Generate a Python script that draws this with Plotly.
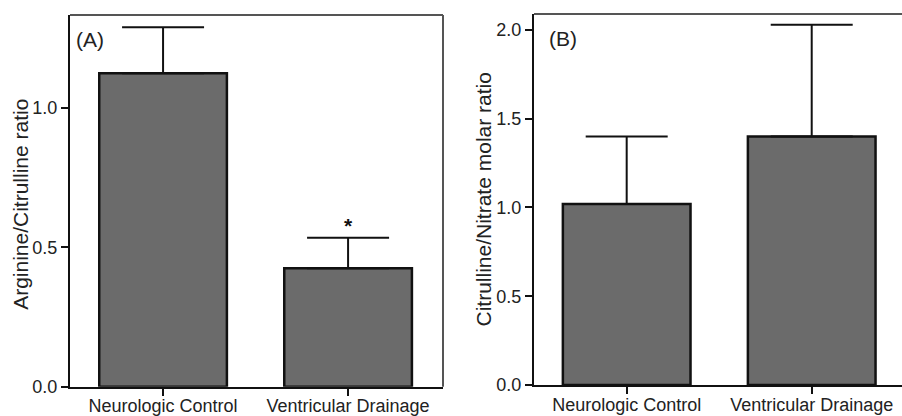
import plotly.graph_objects as go

categories = ["Neurologic Control", "Ventricular Drainage"]
arg_cit_ratio = [1.125, 0.425]
arg_cit_err = [0.165, 0.11]
cit_nit_ratio = [1.02, 1.40]
cit_nit_err = [0.38, 0.63]
yticks_a = [0.0, 0.5, 1.0]
yticks_b = [0.0, 0.5, 1.0, 1.5, 2.0]
ytitle_a = "Arginine/Citrulline ratio"
ytitle_b = "Citrulline/Nitrate molar ratio"

FONT = "Liberation Sans, Arial, sans-serif"
BAR_FILL = "#6b6b6b"
INK = "#111111"
TXT = "#222222"
FRAME = "#555555"

fig = go.Figure()

def bar(x, y, err, xa, ya):
    return go.Bar(
        x=x, y=y, xaxis=xa, yaxis=ya, width=0.69,
        marker=dict(color=BAR_FILL, line=dict(color=INK, width=2.5)),
        error_y=dict(type="data", array=err, symmetric=False, arrayminus=[0] * len(err),
                     color=INK, thickness=2, width=41),
        showlegend=False, hoverinfo="skip",
    )

fig.add_trace(bar(categories, arg_cit_ratio, arg_cit_err, "x", "y"))
fig.add_trace(bar(categories, cit_nit_ratio, cit_nit_err, "x2", "y2"))

axis_common = dict(showgrid=False, zeroline=False, showline=True, linecolor=INK, linewidth=2,
                   ticks="outside", ticklen=7, tickwidth=2, tickcolor=INK, automargin=False,
                   tickfont=dict(family=FONT, size=18, color=TXT))

fig.update_layout(
    width=902, height=416,
    margin=dict(l=0, r=0, t=0, b=0, autoexpand=False),
    paper_bgcolor="white", plot_bgcolor="white",
    xaxis=dict(domain=[70 / 902, 443 / 902], range=[-0.503, 1.513], anchor="y",
               ticklabelstandoff=-5, **axis_common),
    yaxis=dict(domain=[1 - 386.7 / 416, 1 - 15 / 416], range=[0, 1.334], anchor="x",
               tickvals=yticks_a, tickformat=".1f", **axis_common),
    xaxis2=dict(domain=[534 / 902, 1.0], range=[-0.501, 1.488], anchor="y2",
                ticklabelstandoff=-5, **axis_common),
    yaxis2=dict(domain=[1 - 385 / 416, 1 - 14 / 416], range=[0, 2.09], anchor="x2",
                tickvals=yticks_b, tickformat=".1f", **axis_common),
)

# y-axis titles
fig.add_annotation(text=ytitle_a, xref="paper", yref="y domain", x=21 / 902, y=0.5, yshift=-4,
                   xanchor="center", yanchor="middle", textangle=-90, showarrow=False,
                   font=dict(family=FONT, size=21, color=TXT))
fig.add_annotation(text=ytitle_b, xref="paper", yref="y2 domain", x=483 / 902, y=0.5,
                   xanchor="center", yanchor="middle", textangle=-90, showarrow=False,
                   font=dict(family=FONT, size=21, color=TXT))

# frame (top/right) in grey
fig.add_shape(type="line", xref="x domain", yref="y domain", x0=0, x1=1, y0=1, y1=1,
              line=dict(color=FRAME, width=2))
fig.add_shape(type="line", xref="x domain", yref="y domain", x0=1, x1=1, y0=0, y1=1,
              line=dict(color=FRAME, width=2))
fig.add_shape(type="line", xref="x2 domain", yref="y2 domain", x0=0, x1=1, y0=1, y1=1,
              line=dict(color=FRAME, width=2))

# panel labels
fig.add_annotation(text="(A)", xref="x domain", yref="y domain", x=0.012, y=0.935,
                   xanchor="left", yanchor="middle", showarrow=False,
                   font=dict(family=FONT, size=21, color=TXT))
fig.add_annotation(text="(B)", xref="x2 domain", yref="y2 domain", x=0.035, y=0.935,
                   xanchor="left", yanchor="middle", showarrow=False,
                   font=dict(family=FONT, size=21, color=TXT))

# significance marker
fig.add_annotation(text="<b>*</b>", xref="x", yref="y", x=categories[1],
                   y=arg_cit_ratio[1] + arg_cit_err[1], yanchor="bottom", yshift=-1,
                   showarrow=False, font=dict(family=FONT, size=21, color=INK))

fig.write_html("out.html")
